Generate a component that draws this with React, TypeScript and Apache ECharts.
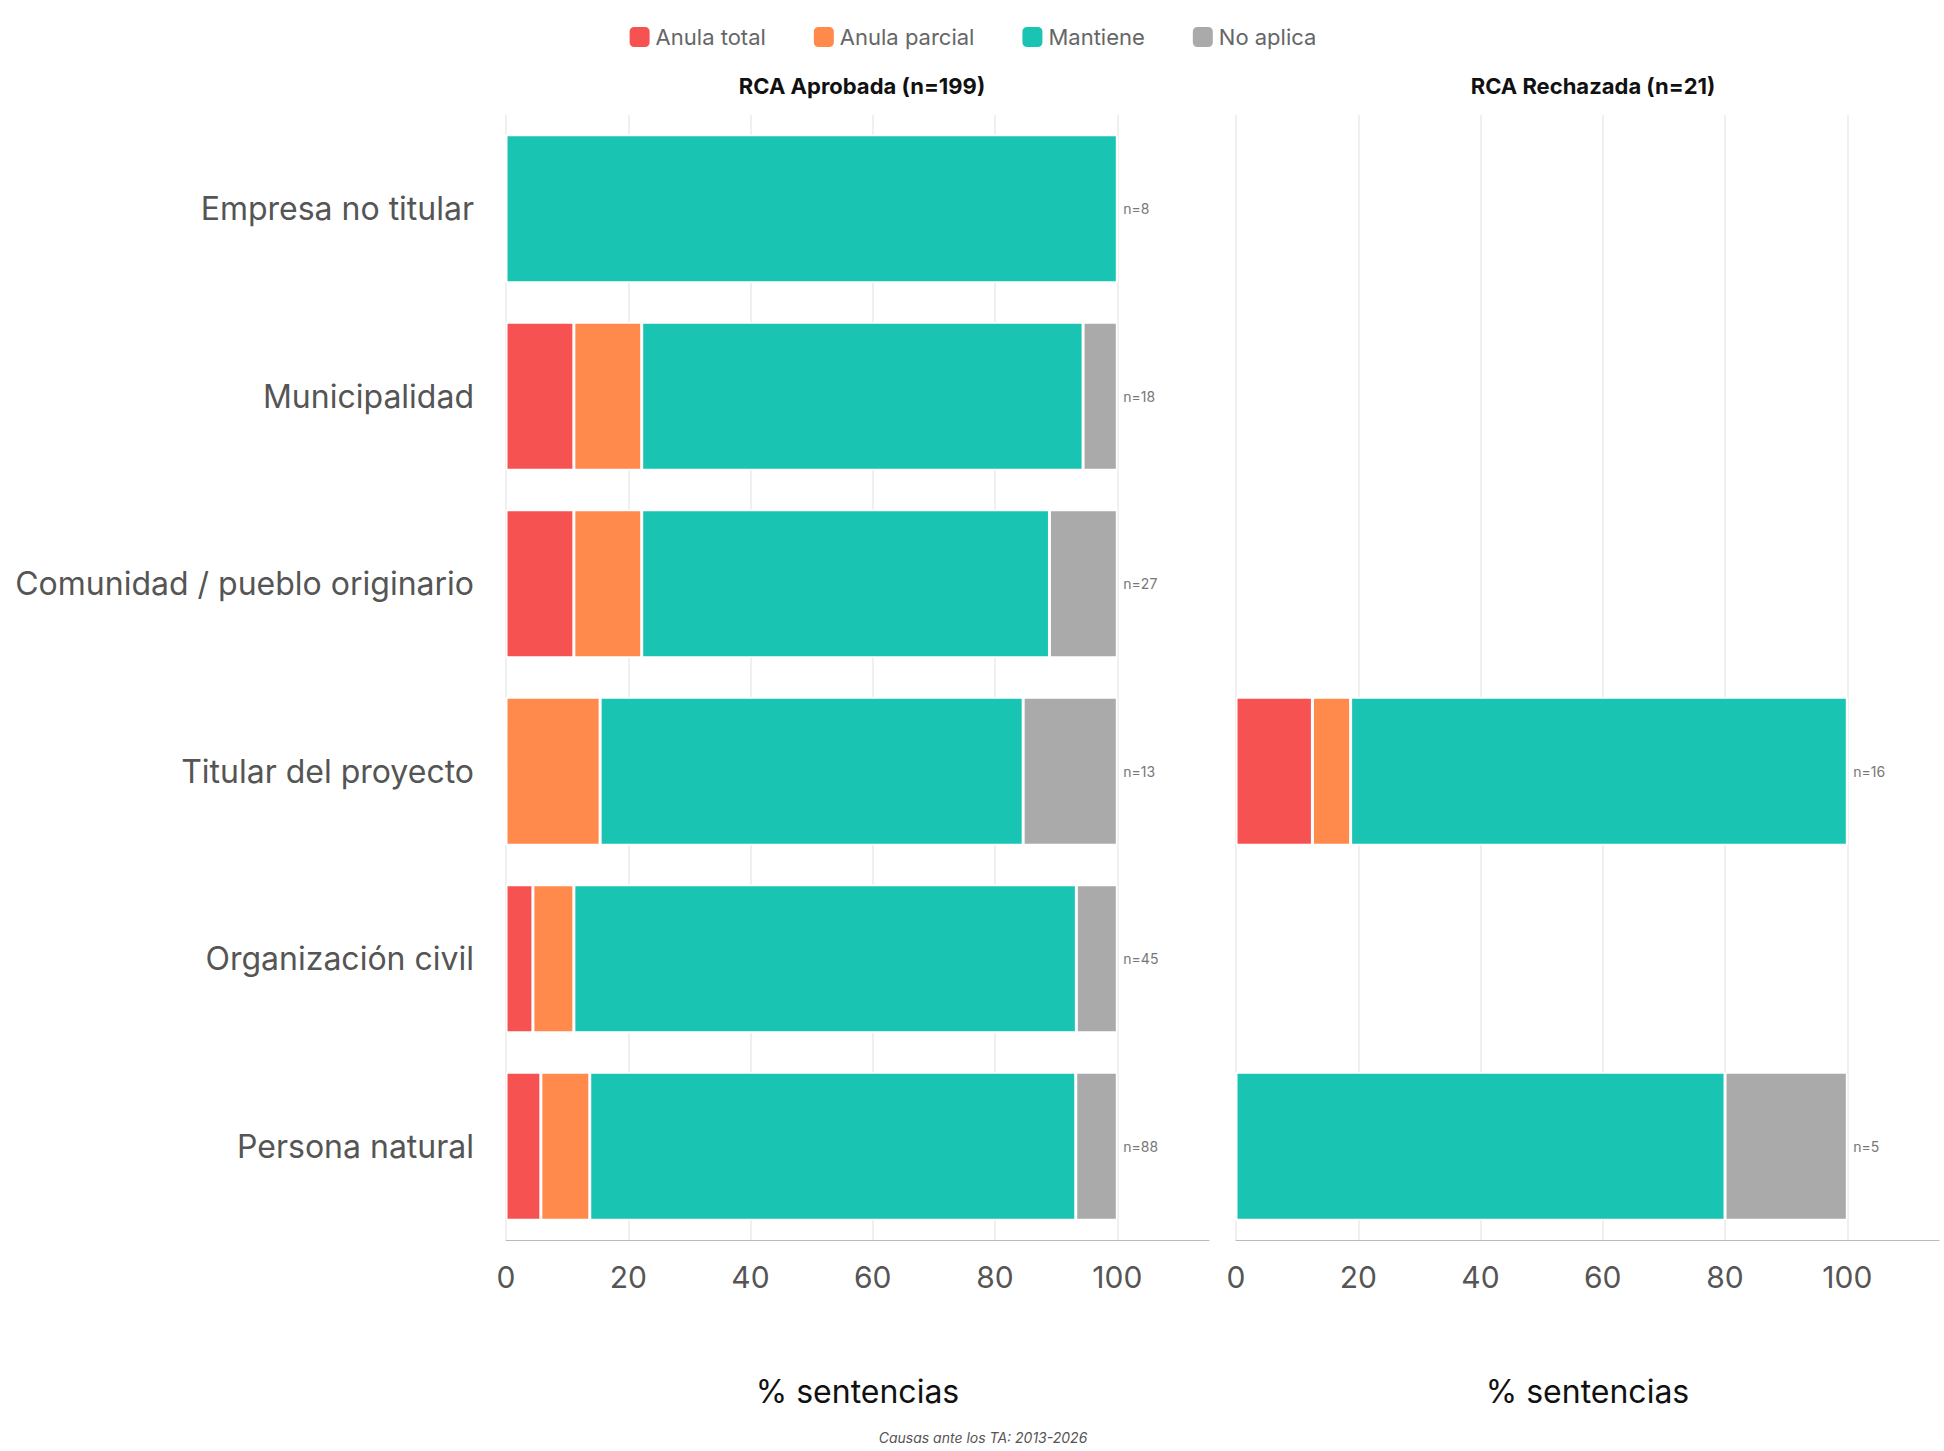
import * as echarts from "echarts";
import { useEffect, useRef } from "react";

const categories = ["Empresa no titular", "Municipalidad", "Comunidad / pueblo originario", "Titular del proyecto", "Organización civil", "Persona natural"];
const seriesNames = ["Anula total", "Anula parcial", "Mantiene", "No aplica"];
const colors = ["#F75252", "#FF8A4C", "#19C4B3", "#AAAAAA"];

// RCA Aprobada (%)
const aprobTotal = [0, 11.1, 11.1, 0, 4.4, 5.7];
const aprobParcial = [0, 11.1, 11.1, 15.4, 6.7, 8.0];
const aprobMantiene = [100, 72.2, 66.7, 69.2, 82.2, 79.5];
const aprobNoAplica = [0, 5.6, 11.1, 15.4, 6.7, 6.8];
const aprobN = [8, 18, 27, 13, 45, 88];

// RCA Rechazada (%)
const rechTotal = [null, null, null, 12.5, null, 0];
const rechParcial = [null, null, null, 6.25, null, 0];
const rechMantiene = [null, null, null, 81.25, null, 80];
const rechNoAplica = [null, null, null, 0, null, 20];
const rechN = [null, null, null, 16, null, 5];

const font = "Inter, Lato, sans-serif";

export default function App() {
	const chartRef = useRef<HTMLDivElement>(null);

	useEffect(() => {
		if (!chartRef.current) return;
		const chart = echarts.init(chartRef.current, null, { renderer: "svg" });

		const xAxis = (gridIndex: number) => ({
			gridIndex,
			type: "value",
			min: 0,
			max: 115,
			interval: 20,
			name: "% sentencias",
			nameLocation: "middle",
			nameGap: 135,
			nameTextStyle: { fontSize: 32, color: "#111", fontFamily: font },
			axisLine: { show: true, lineStyle: { color: "#bbb" } },
			axisTick: { show: false },
			axisLabel: {
				fontSize: 30,
				color: "#555",
				fontFamily: font,
				margin: 22,
				showMaxLabel: false,
				formatter: (v: number) => (v <= 100 ? String(v) : ""),
			},
			splitLine: { show: true, showMaxLine: false, lineStyle: { color: "#f0f0f0", width: 2 } },
		});
		const yAxis = (gridIndex: number, showLabels: boolean) => ({
			gridIndex,
			type: "category",
			inverse: true,
			data: categories,
			axisLine: { show: false },
			axisTick: { show: false },
			axisLabel: { show: showLabels, fontSize: 32, color: "#555", fontFamily: font, margin: 32 },
		});

		const build = (idx: number, data: (number | null)[][], ns: (number | null)[]) => [
			...data.map((d, i) => ({
				name: seriesNames[i],
				type: "bar",
				stack: "s" + idx,
				xAxisIndex: idx,
				yAxisIndex: idx,
				barCategoryGap: "21%",
				itemStyle: { color: colors[i], borderColor: "#fff", borderWidth: 1.5 },
				data: d,
			})),
			{
				name: "n" + idx,
				type: "bar",
				stack: "s" + idx,
				xAxisIndex: idx,
				yAxisIndex: idx,
				data: ns.map((n) => (n == null ? null : 0)),
				label: {
					show: true,
					position: "right",
					distance: 6,
					fontSize: 14,
					color: "#777",
					fontFamily: font,
					formatter: (p: any) => (ns[p.dataIndex] == null ? "" : "n=" + ns[p.dataIndex]),
				},
			},
		];

		chart.setOption({
			animation: false,
			color: colors,
			legend: {
				data: seriesNames,
				top: 20,
				left: "center",
				itemWidth: 22,
				itemHeight: 22,
				itemGap: 46,
				textStyle: { fontSize: 22, color: "#666", fontFamily: font },
			},
			title: [
				{ text: "RCA Aprobada (n=199)", left: 857, top: 70, textAlign: "center", textStyle: { fontSize: 22, fontWeight: "bold", color: "#111", fontFamily: font } },
				{ text: "RCA Rechazada (n=21)", left: 1588, top: 70, textAlign: "center", textStyle: { fontSize: 22, fontWeight: "bold", color: "#111", fontFamily: font } },
				{ text: "Causas ante los TA: 2013-2026", left: 978, top: 1425, textAlign: "center", textStyle: { fontSize: 14, fontStyle: "italic", fontWeight: "normal", color: "#555", fontFamily: font } },
			],
			grid: [
				{ left: 506, width: 703, top: 115, height: 1125 },
				{ left: 1236, width: 703, top: 115, height: 1125 },
			],
			xAxis: [xAxis(0), xAxis(1)],
			yAxis: [yAxis(0, true), yAxis(1, false)],
			series: [
				...build(0, [aprobTotal, aprobParcial, aprobMantiene, aprobNoAplica], aprobN),
				...build(1, [rechTotal, rechParcial, rechMantiene, rechNoAplica], rechN),
			],
		});

		return () => chart.dispose();
	}, []);

	return <div ref={chartRef} style={{ position: "fixed", left: 0, top: 0, width: 1944, height: 1451, background: "#fff" }} />;
}
